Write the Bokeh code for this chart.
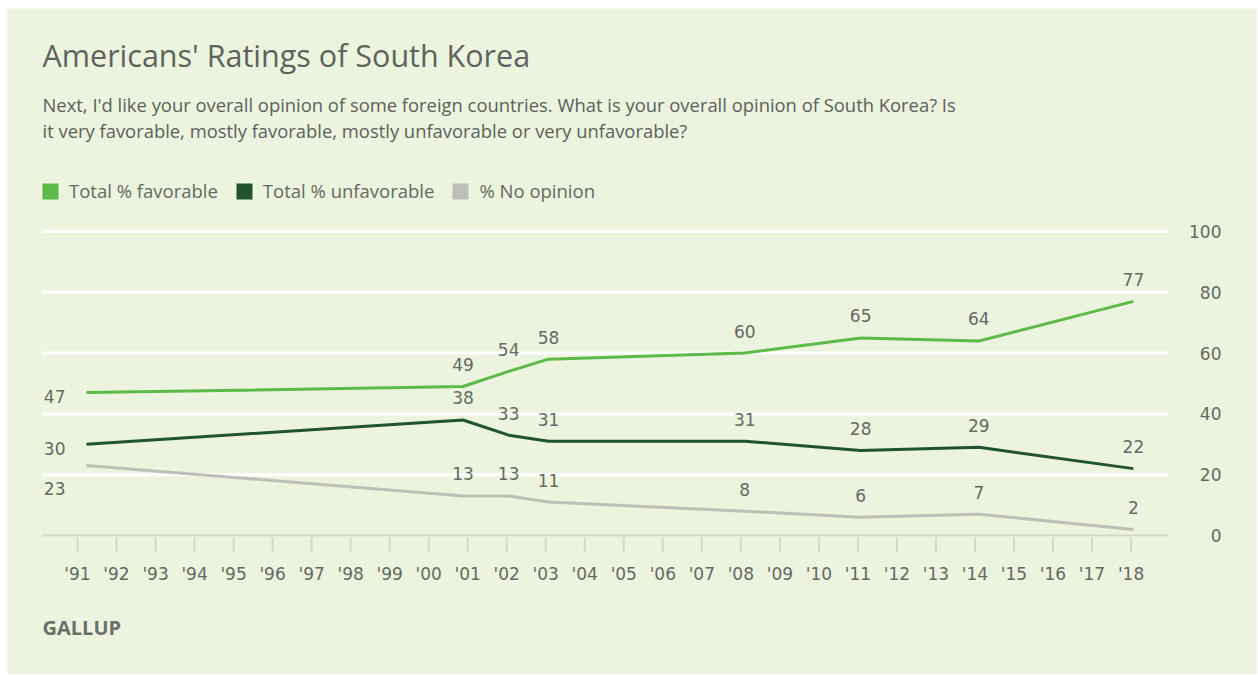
from bokeh.plotting import figure
from bokeh.models import Range1d, Label, Legend, LegendItem, ColumnDataSource
from bokeh.core.properties import value
from bokeh.embed import file_html
from bokeh.resources import INLINE

# ---------------- data ----------------
years = [1991.23, 2000.88, 2002.05, 2003.07, 2008.10, 2011.07, 2014.10, 2018.06]
favorable = [47, 49, 54, 58, 60, 65, 64, 77]
unfavorable = [30, 38, 33, 31, 31, 28, 29, 22]
no_opinion = [23, 13, 13, 11, 8, 6, 7, 2]

tick_years = list(range(1991, 2019))
tick_labels = ["'" + str(y)[2:] for y in tick_years]
y_ticks = [0, 20, 40, 60, 80, 100]
y_tick_labels = [str(v) for v in y_ticks]
grid_ticks = [20, 40, 60, 80, 100]

series_names = ["Total % favorable", "Total % unfavorable", "% No opinion"]
title_text = "Americans' Ratings of South Korea"
subtitle_lines = [
    "Next, I'd like your overall opinion of some foreign countries. What is your overall opinion of South Korea? Is",
    "it very favorable, mostly favorable, mostly unfavorable or very unfavorable?",
]
source_text = "GALLUP"

# ---------------- style / geometry ----------------
FONT = "Open Sans"
NUM_FONT = "DejaVu Sans"
BG = "#ecf3df"
TXT = "#646962"
AXIS = "#d3d8cb"
COLORS = ["#5dba49", "#21542d", "#bcc0b8"]

W, H = 1250, 666
PX_X, PX_Y = 39.02, 3.04          # pixels per year, pixels per percentage point
ORIGIN = (70, 527)                # canvas pixel of ('91, 0)
X0 = 1991 - ORIGIN[0] / PX_X
X1 = X0 + W / PX_X
Y0 = -(H - ORIGIN[1]) / PX_Y
Y1 = Y0 + H / PX_Y


def xd(px):
    return X0 + px / PX_X


def yd(py):
    return Y0 + (H - py) / PX_Y


p = figure(width=W, height=H, output_backend="svg", toolbar_location=None,
           x_range=Range1d(X0, X1), y_range=Range1d(Y0, Y1),
           x_axis_type=None, y_axis_type=None, margin=(8, 0, 0, 7),
           min_border=0, min_border_left=0, min_border_right=0, min_border_top=0, min_border_bottom=0,
           background_fill_color=BG, border_fill_color=BG, outline_line_color=None)
p.grid.visible = False

# ---------------- gridlines, baseline, ticks ----------------
n = len(grid_ticks)
p.segment(x0=[xd(35)] * n, x1=[xd(1161)] * n, y0=grid_ticks, y1=grid_ticks,
          line_color="white", line_width=3)
p.segment(x0=[xd(35)], x1=[xd(1161)], y0=[0], y1=[0], line_color=AXIS, line_width=2)
m = len(tick_years)
p.segment(x0=tick_years, x1=tick_years, y0=[yd(529)] * m, y1=[yd(544)] * m,
          line_color=AXIS, line_width=2)
p.text(x=tick_years, y=[0] * m, text=tick_labels, text_align="center", text_baseline="middle",
       y_offset=38, text_font=value(NUM_FONT), text_font_size="17px", text_color=TXT)
p.text(x=[xd(1214)] * len(y_ticks), y=y_ticks, text=y_tick_labels, text_align="right",
       text_baseline="middle", text_font=value(NUM_FONT), text_font_size="17px", text_color=TXT)

# ---------------- lines ----------------
series = [favorable, unfavorable, no_opinion]
for vals, c in zip(series, COLORS):
    p.line(years, vals, line_color=c, line_width=3, line_join="round")

# ---------------- data labels ----------------
for vals in series:
    src = ColumnDataSource(dict(x=years[1:], y=vals[1:], t=[str(v) for v in vals[1:]]))
    p.text(x="x", y="y", text="t", source=src, text_align="center", text_baseline="middle",
           y_offset=-22, text_font=value(NUM_FONT), text_font_size="17px", text_color=TXT)

first_offsets = [4, 4, 23]
for vals, dy in zip(series, first_offsets):
    p.text(x=[years[0]], y=[vals[0]], text=[str(vals[0])], text_align="right", text_baseline="middle",
           x_offset=-21, y_offset=dy, text_font=value(NUM_FONT), text_font_size="17px", text_color=TXT)

# ---------------- legend (swatch proxies sit far outside the visible range) ----------------
dummies = [p.vbar(x=[1991], bottom=[Y0 - 100], top=[Y0 - 90], width=0.5, fill_color=c, line_color=None)
           for c in COLORS]
legend = Legend(items=[LegendItem(label=nm, renderers=[r]) for nm, r in zip(series_names, dummies)],
                orientation="horizontal", location=(33, 471),
                glyph_width=20, glyph_height=20, label_height=18, label_standoff=9, spacing=16,
                padding=0, margin=0, border_line_color=None, background_fill_alpha=0,
                label_text_font=FONT, label_text_font_size="18.5px", label_text_color=TXT)
p.add_layout(legend)

# ---------------- titles ----------------
p.add_layout(Label(x=35, y=620, x_units="screen", y_units="screen", text=title_text,
                   text_font=FONT, text_font_size="30.5px", text_color="#5e635d",
                   text_baseline="alphabetic"))
for i, line in enumerate(subtitle_lines):
    p.add_layout(Label(x=35, y=570 - 26 * i, x_units="screen", y_units="screen", text=line,
                       text_font=FONT, text_font_size="18.4px", text_color="#5c615b",
                       text_baseline="alphabetic"))
p.add_layout(Label(x=35, y=47, x_units="screen", y_units="screen", text=source_text,
                   text_font=FONT, text_font_size="20px", text_font_style="bold", text_color="#6b6f69",
                   text_baseline="alphabetic"))

open("out.html", "w").write(file_html(p, INLINE))
